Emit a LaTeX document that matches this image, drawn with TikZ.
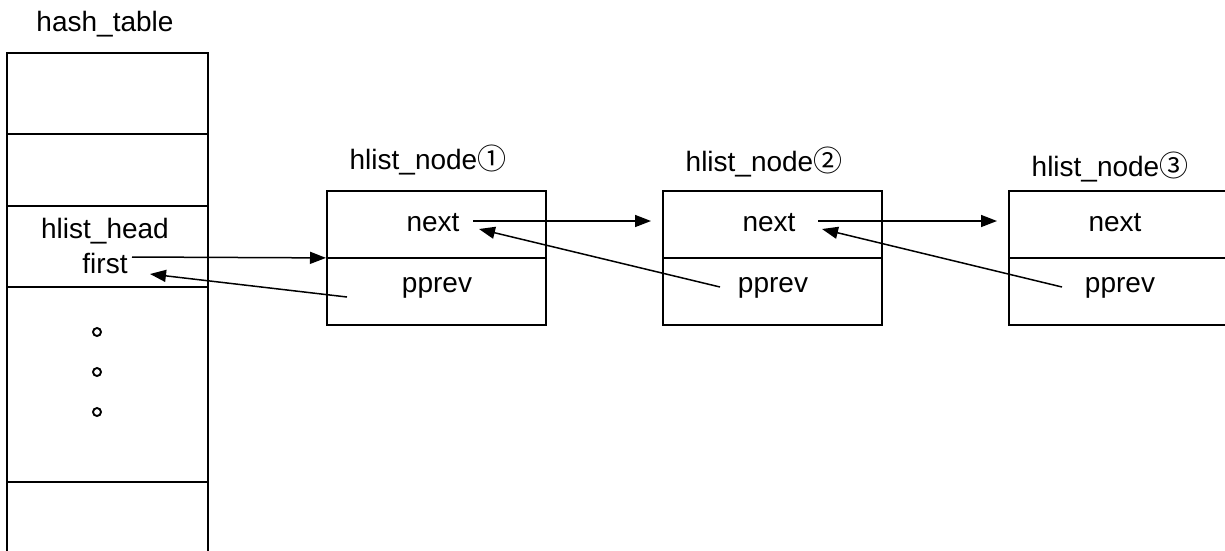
\documentclass[tikz,border=0pt]{standalone}
\usepackage{fontspec}
\setmainfont{Liberation Sans}
\newfontfamily\circfont{Noto Sans CJK JP}
\usetikzlibrary{arrows.meta}

\newcommand\circnum[1]{{\circfont\fontsize{29}{29}\selectfont #1}}

\tikzset{
  lbl/.style={font=\fontsize{28}{30}\selectfont, inner sep=0pt, anchor=center},
  rule/.style={line width=1.8pt},
  cellbox/.style={draw, line width=1.8pt, rectangle, minimum width=219pt,
                  minimum height=134pt, inner sep=0pt, anchor=north west},
  ptr/.style={line width=1.5pt, -{Triangle[length=16pt,width=12pt]}},
  dot/.style={circle, draw, line width=1.9pt, minimum size=8pt, inner sep=0pt}
}

\begin{document}
\begin{tikzpicture}[x=1pt, y=-1pt]
\useasboundingbox (0,0) rectangle (1225,550);

% hash table column (runs past the bottom edge)
\node[lbl] (ht) at (105,24) {hash\_table};
\draw[rule] (7,560) -- (7,53) -- (208,53) -- (208,560);
\foreach \yy in {134,206,287,482}
  \draw[rule] (7,\yy) -- (208,\yy);
\node[lbl] (head) at (105,231) {hlist\_head};
\node[lbl] (first) at (105,263) {first};
\node[dot] (d1) at (97,332) {};
\node[dot] (d2) at (97,372) {};
\node[dot] (d3) at (97,412) {};

% list nodes
\node[cellbox] (n1) at (326,190) {};
\node[cellbox] (n2) at (662,190) {};
\node[cellbox] (n3) at (1008,190) {};
\foreach \n in {n1,n2,n3}
  \draw[rule] (\n.west) -- (\n.east);

\node[lbl] (t1) at (428,160) {hlist\_node\circnum{①}};
\node[lbl] (t2) at (764,162) {hlist\_node\circnum{②}};
\node[lbl] (t3) at (1110,167) {hlist\_node\circnum{③}};

\node[lbl] (nx1) at (433,223) {next};
\node[lbl] (nx2) at (769,223) {next};
\node[lbl] (nx3) at (1115,223) {next};
\node[lbl] (pp1) at (437,288) {pprev};
\node[lbl] (pp2) at (773,288) {pprev};
\node[lbl] (pp3) at (1120,288) {pprev};

% pointer end points beside the field names
\coordinate (fo) at (132,257);
\coordinate (fi) at (150,274);
\coordinate (nx1o) at (473,221);
\coordinate (nx1i) at (479,229);
\coordinate (nx2o) at (818,221);
\coordinate (nx2i) at (822,229);
\coordinate (pp1o) at (347,297);
\coordinate (pp2o) at (720,287);
\coordinate (pp3o) at (1062,287);
\coordinate (n2in) at (651,221);
\coordinate (n3in) at (997,221);

% forward pointers
\draw[ptr] (fo) -- (n1.west);
\draw[ptr] (nx1o) -- (n2in);
\draw[ptr] (nx2o) -- (n3in);
% back pointers
\draw[ptr] (pp1o) -- (fi);
\draw[ptr] (pp2o) -- (nx1i);
\draw[ptr] (pp3o) -- (nx2i);
\end{tikzpicture}
\end{document}
